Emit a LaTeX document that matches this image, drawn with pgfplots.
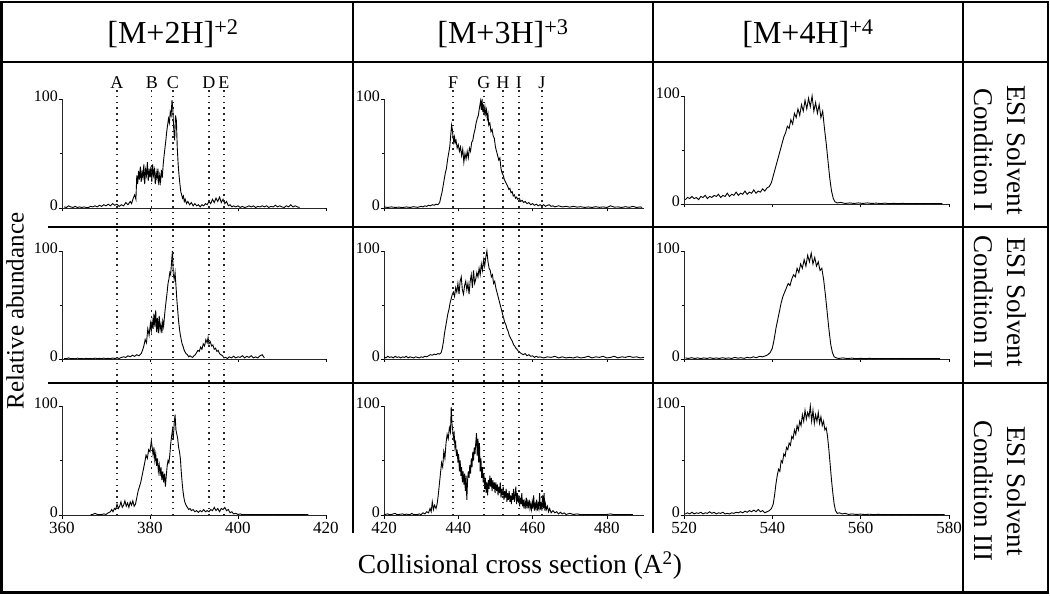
\documentclass[border=0pt]{standalone}
\usepackage{pgfplots}
\pgfplotsset{compat=1.18}
\usepackage{fontspec}
\setmainfont{Liberation Serif}
\newcommand{\fs}[1]{\fontsize{#1}{#1}\selectfont}
\tikzset{dl/.style={black!85, line width=1.4pt, dash pattern=on 1.5pt off 4.3pt}}
\pgfplotsset{
  panel/.style={
    scale only axis, anchor=south west,
    axis x line*=bottom, axis y line*=left,
    ymin=0, ymax=100, ytick={0,100}, minor ytick={50},
    tick align=outside, major tick length=3.5pt, minor tick length=2.5pt,
    every tick/.style={black, line width=0.6pt},
    axis line style={line width=0.8pt, black!85},
    yticklabel style={font=\fs{16}, inner sep=0.5pt, yshift=3pt},
    xticklabel style={font=\fs{17}, inner sep=0.5pt, yshift=-2.5pt},
    /pgf/number format/assume math mode=true,
    clip=false,
  },
  nox/.style={xticklabels={}},
  c1/.style={xmin=360, xmax=420, xtick={360,380,400,420}, width=264pt},
  c2/.style={xmin=420, xmax=490, xtick={420,440,460,480}, width=260pt},
  c3/.style={xmin=520, xmax=580, xtick={520,540,560,580}, width=265pt},
  sp/.style={black, line width=0.9pt, mark=none},
}
\begin{document}
\begin{tikzpicture}
\path[use as bounding box] (0pt,0pt) rectangle (1050pt,595pt);
% table grid
\begin{scope}[line width=2.6pt, black]
\draw (1.5pt,2.5pt) rectangle (1048pt,593pt);
\draw (1.5pt,533pt) -- (1048pt,533pt);
\draw (48pt,368pt) -- (1048pt,368pt);
\draw (48pt,212pt) -- (1048pt,212pt);
\draw (353pt,593pt) -- (353pt,62pt);
\draw (653pt,593pt) -- (653pt,62pt);
\draw (963pt,593pt) -- (963pt,2.5pt);
\end{scope}
% headers
\node[font=\fs{32}] at (173pt,561pt) {[M+2H]\textsuperscript{+2}};
\node[font=\fs{32}] at (503pt,561pt) {[M+3H]\textsuperscript{+3}};
\node[font=\fs{32}] at (808pt,561pt) {[M+4H]\textsuperscript{+4}};
% row labels
\node[rotate=-90, align=center, font=\fontsize{27}{33}\selectfont] at (1000pt,445pt) {ESI Solvent\\Condition I};
\node[rotate=-90, align=center, font=\fontsize{27}{33}\selectfont] at (1000pt,293pt) {ESI Solvent\\Condition II};
\node[rotate=-90, align=center, font=\fontsize{27}{33}\selectfont] at (1000pt,104pt) {ESI Solvent\\Condition III};
% axis titles
\node[rotate=90, font=\fs{25}] at (15pt,284pt) {Relative abundance};
\node[font=\fs{27.5}] at (520pt,29pt) {Collisional cross section (A\textsuperscript{2})};

% ===== Row 1 =====
\begin{axis}[panel, c1, nox, at={(62pt,387pt)}, height=109pt]
\addplot[sp] coordinates {(360.5,1)(361,0.5)(361.5,2)(362,1)(362.5,0.5)(363,1.5)(363.5,0.5)(364,1)(364.5,0.5)(365,1)(365.5,0.5)(366,0.5)(366.5,1.5)(367,1)(367.5,2)(368,1)(368.5,2.5)(369,1.5)(369.5,3)(370,2)(370.5,3.5)(371,2)(371.5,4)(372,2.5)(372.5,3.5)(373,1.5)(373.5,3)(374,2)(374.5,5)(375,3)(375.5,6)(375.8,4)(376.2,9)(376.5,12)(376.8,8)(377,30)(377.2,22)(377.4,34)(377.6,26)(377.8,38)(378,24)(378.2,33)(378.4,28)(378.6,40)(378.8,22)(379,35)(379.2,30)(379.4,42)(379.6,25)(379.8,36)(380,28)(380.2,38)(380.4,24)(380.6,40)(380.8,30)(381,35)(381.2,22)(381.4,33)(381.6,27)(381.8,36)(382,21)(382.2,30)(382.4,24)(382.6,35)(382.8,28)(383,40)(383.2,48)(383.4,55)(383.6,62)(383.8,70)(384,76)(384.2,82)(384.4,78)(384.6,88)(384.8,85)(385,99)(385.2,90)(385.4,72)(385.6,62)(385.8,85)(386,80)(386.2,55)(386.4,40)(386.6,30)(386.8,22)(387,15)(387.2,12)(387.4,9)(387.6,11)(387.8,6)(388,8)(388.3,4)(388.6,6)(389,3)(389.4,5)(389.8,2)(390.2,4)(390.6,2)(391,3)(391.4,1)(391.8,3)(392.2,2)(392.6,4)(393,3)(393.4,6)(393.8,4)(394.2,8)(394.6,5)(395,9)(395.4,6)(395.8,10)(396.2,5)(396.6,8)(397,4)(397.4,6)(397.8,2)(398.2,3)(398.6,1)(399,2)(399.5,1)(400,2)(400.5,0.5)(401,1.5)(401.5,0.5)(402,1)(402.5,2)(403,1)(403.5,2)(404,0.5)(404.5,1.5)(405,1)(405.5,2)(406,1)(406.5,2)(407,0.5)(407.5,1.5)(408,1)(408.5,2.5)(409,1)(409.5,2)(410,1)(410.5,0.5)(411,2)(411.5,1)(412,3)(412.5,1)(413,2)(413.5,1)(414,0.5)};
\end{axis}
\begin{axis}[panel, c2, nox, at={(384pt,387pt)}, height=109pt]
\addplot[sp] coordinates {(420,1)(421,0.5)(422,1)(423,0.5)(424,0.8)(425,0.4)(426,1)(427,0.5)(428,1.2)(429,0.6)(430,1.5)(430.5,1)(431,2)(431.5,1.5)(432,2.5)(432.5,2)(433,3)(433.5,2.5)(434,3.5)(434.5,3)(435,5)(435.3,10)(435.6,14)(435.9,20)(436.2,26)(436.5,32)(436.8,36)(437.1,44)(437.4,50)(437.7,56)(438,68)(438.2,76)(438.4,72)(438.6,64)(438.8,60)(439,65)(439.2,60)(439.4,62)(439.7,55)(440,58)(440.3,52)(440.6,56)(440.9,48)(441.2,54)(441.5,42)(441.8,50)(442.1,45)(442.4,52)(442.7,46)(443,55)(443.3,52)(443.6,60)(443.9,62)(444.2,68)(444.5,72)(444.8,78)(445.1,82)(445.4,85)(445.7,92)(446,98)(446.2,90)(446.4,100)(446.6,88)(446.8,95)(447,85)(447.2,92)(447.4,86)(447.6,90)(447.8,82)(448,86)(448.2,76)(448.5,78)(448.8,70)(449.1,72)(449.4,66)(449.7,64)(450,56)(450.3,52)(450.6,48)(450.9,44)(451.2,46)(451.5,36)(451.8,32)(452.1,30)(452.4,26)(452.7,24)(453,22)(453.3,20)(453.6,17)(453.9,18)(454.2,14)(454.5,15)(454.8,11)(455.1,12)(455.4,9)(455.7,10)(456,8)(456.4,9)(456.8,6)(457.2,7)(457.6,5)(458,6)(458.5,4)(459,5)(459.5,3)(460,4)(460.5,2.5)(461,3.5)(461.5,2)(462,3)(462.5,2)(463,3)(463.5,1.5)(464,2.5)(464.5,3)(465,1.5)(465.5,2)(466,1)(467,2)(468,1)(469,1.5)(470,0.8)(471,1.5)(472,0.8)(473,1.2)(474,0.5)(475,1)(476,0.5)(477,1.2)(478,0.6)(479,1)(480,0.5)(481,2)(482,0.8)(483,1)(484,0.5)(485,1.2)(486,0.6)(487,1.5)(488,0.5)(489,1)(489.5,0.5)};
\end{axis}
\begin{axis}[panel, c3, nox, at={(684pt,391pt)}, height=108pt]
\addplot[sp] coordinates {(520.3,4)(520.8,6)(521.3,5)(521.8,7)(522.3,5)(522.8,6)(523.3,4)(523.8,7)(524.3,6)(524.8,8)(525.3,5)(525.8,7)(526.3,6)(526.8,8)(527.3,7)(527.8,9)(528.3,6)(528.8,8)(529.3,7)(529.8,10)(530.3,7)(530.8,9)(531.3,8)(531.8,11)(532.3,8)(532.8,10)(533.3,9)(533.8,12)(534.3,9)(534.8,11)(535.3,10)(535.8,13)(536.3,10)(536.8,12)(537.3,11)(537.8,14)(538.3,12)(538.8,15)(539.3,16)(539.8,20)(540.2,26)(540.6,32)(541,38)(541.4,44)(541.8,50)(542.2,56)(542.6,62)(543,66)(543.4,72)(543.8,70)(544.2,78)(544.6,74)(545,84)(545.4,80)(545.8,88)(546.2,82)(546.6,92)(547,86)(547.4,96)(547.8,88)(548.2,98)(548.6,90)(549,100)(549.4,86)(549.8,94)(550.2,84)(550.6,92)(551,80)(551.4,86)(551.8,70)(552.2,56)(552.6,40)(553,24)(553.4,12)(553.8,5)(554.2,2)(554.7,1)(555.5,1.5)(556.5,0.5)(557.5,1)(558.5,0.5)(559.5,1)(560.5,0.5)(561.5,1)(562.5,0.5)(563.5,0.8)(564.5,0.4)(565.5,0.8)(566.5,0.3)(567.5,0.6)(568.5,0.3)(569.5,0.6)(570.5,0.3)(571.5,0.5)(572.5,0.3)(573.5,0.5)(574.5,0.3)(575.5,0.5)(576.5,0.3)(577.5,0.5)(578.5,0.3)};
\end{axis}

% ===== Row 2 =====
\begin{axis}[panel, c1, nox, at={(62pt,236pt)}, height=108pt]
\addplot[sp] coordinates {(360.5,0.5)(361,0.3)(361.5,1)(362,0.3)(362.5,0.5)(363,0.2)(363.5,0.8)(364,0.3)(364.5,0.5)(365,0.2)(365.5,0.6)(366,0.3)(366.5,0.5)(367,0.2)(367.5,0.8)(368,0.4)(368.5,0.6)(369,0.3)(369.5,0.8)(370,0.4)(370.5,0.6)(371,0.3)(371.5,0.9)(372,0.5)(372.5,1)(373,0.5)(373.5,1.5)(374,2)(374.5,1.5)(375,3)(375.5,2)(376,3.5)(376.5,2.5)(377,4)(377.5,3)(378,5)(378.3,8)(378.6,12)(378.9,18)(379.2,15)(379.5,28)(379.8,22)(380.1,33)(380.3,26)(380.5,35)(380.7,28)(380.9,42)(381.1,30)(381.3,45)(381.5,25)(381.7,38)(381.9,24)(382.1,40)(382.3,27)(382.5,32)(382.7,24)(382.9,35)(383.1,30)(383.3,40)(383.5,48)(383.7,55)(383.9,62)(384.1,70)(384.3,74)(384.5,80)(384.7,78)(384.9,90)(385.1,100)(385.3,78)(385.5,74)(385.7,80)(385.9,68)(386.1,55)(386.3,45)(386.5,35)(386.7,28)(386.9,22)(387.1,18)(387.3,14)(387.5,12)(387.7,9)(387.9,7)(388.2,5)(388.5,4)(388.8,2)(389.1,3)(389.4,2)(389.7,1.5)(390,3)(390.3,4)(390.6,6)(390.9,8)(391.2,7)(391.5,11)(391.8,9)(392.1,14)(392.4,12)(392.7,18)(393,15)(393.2,20)(393.4,14)(393.7,16)(394,12)(394.3,13)(394.6,9)(394.9,10)(395.2,7)(395.5,8)(395.8,5)(396.1,4)(396.5,3)(396.8,1)(397.2,1.5)(397.6,0.5)(398,2)(398.5,1)(399,2.5)(399.5,1)(400,2)(400.5,1.5)(401,3)(401.5,1)(402,2.5)(402.5,1.5)(403,3)(403.5,1)(404,2)(404.5,1)(405,3)(405.5,4)(406,1)};
\end{axis}
\begin{axis}[panel, c2, nox, at={(384pt,236pt)}, height=108pt]
\addplot[sp] coordinates {(420,2)(420.5,1)(421,2.5)(421.5,1.5)(422,2)(422.5,1)(423,2.5)(423.5,1.5)(424,2)(424.5,1)(425,2)(425.5,1.5)(426,2.5)(426.5,1)(427,2)(427.5,1.5)(428,1)(428.5,2)(429,1.5)(429.5,1)(430,2)(430.5,1.5)(431,2.5)(431.5,2)(432,3)(432.5,4)(433,3.5)(433.5,4.5)(434,4)(434.5,5)(435,4.5)(435.4,6)(435.7,10)(436,16)(436.3,24)(436.6,30)(436.9,36)(437.2,42)(437.5,46)(437.8,52)(438.1,56)(438.4,60)(438.7,62)(439,58)(439.3,66)(439.6,62)(439.9,70)(440.2,60)(440.5,72)(440.8,76)(441.1,64)(441.4,60)(441.7,68)(442,72)(442.3,64)(442.6,70)(442.9,60)(443.2,72)(443.5,78)(443.8,66)(444.1,82)(444.4,70)(444.7,74)(445,80)(445.3,76)(445.6,84)(445.9,78)(446.2,88)(446.5,82)(446.8,92)(447.1,86)(447.4,94)(447.7,100)(448,90)(448.3,84)(448.6,82)(448.9,76)(449.2,78)(449.5,70)(449.8,72)(450.1,66)(450.4,62)(450.7,58)(451,54)(451.3,50)(451.6,46)(451.9,42)(452.2,38)(452.5,34)(452.8,32)(453.1,28)(453.4,26)(453.7,22)(454,20)(454.3,18)(454.6,16)(454.9,13)(455.2,12)(455.5,10)(455.8,9)(456.2,7)(456.6,6)(457,5)(457.5,4)(458,5)(458.5,3)(459,4)(459.5,2.5)(460,3)(460.5,1.5)(461,2.5)(461.5,1.5)(462,2)(463,1)(464,2)(465,1.5)(466,2.5)(467,1)(468,2)(469,1)(470,1.5)(471,1)(472,2)(473,1)(474,1.5)(475,2.5)(476,1)(477,2)(478,1.5)(479,2.5)(480,1)(481,1.5)(482,2.5)(483,1)(484,2)(485,1.5)(486,2.5)(487,1.5)(488,2)(489,1)(490,1.5)};
\end{axis}
\begin{axis}[panel, c3, nox, at={(684pt,236pt)}, height=108pt]
\addplot[sp] coordinates {(520.3,1)(521,0.5)(521.7,1.2)(522.4,0.5)(523.1,1)(523.8,0.4)(524.5,1)(525.2,0.5)(525.9,1.2)(526.6,0.5)(527.3,1)(528,0.5)(528.7,1.2)(529.4,0.6)(530.1,1)(530.8,0.5)(531.5,1.5)(532.2,0.8)(532.9,1.2)(533.6,0.6)(534.3,1.5)(535,1)(535.7,2)(536.4,1.2)(537.1,2.5)(537.8,2)(538.5,3)(539,4)(539.5,6)(540,10)(540.4,18)(540.8,28)(541.2,36)(541.6,44)(542,52)(542.4,58)(542.8,62)(543.2,66)(543.6,70)(544,68)(544.4,74)(544.8,78)(545.2,76)(545.6,84)(546,80)(546.4,88)(546.8,84)(547.2,92)(547.6,86)(548,96)(548.4,90)(548.8,98)(549.2,88)(549.6,94)(550,86)(550.4,90)(550.8,82)(551.2,84)(551.6,74)(552,60)(552.4,44)(552.8,28)(553.2,14)(553.6,6)(554,2)(554.5,1)(555,0.5)(556,1)(557,0.4)(558,0.8)(559,0.3)(560,0.6)(561,0.3)(562,0.6)(563,0.3)(564,0.5)(565,0.3)(566,0.5)(567,0.3)(568,0.5)(569,0.3)(570,0.4)(571,0.3)(572,0.4)(573,0.3)(574,0.4)(575,0.3)(576,0.4)(577,0.3)(578,0.3)};
\end{axis}

% ===== Row 3 =====
\begin{axis}[panel, c1, at={(62pt,80pt)}, height=109pt]
\addplot[sp] coordinates {(366.5,0.3)(367,0.5)(367.5,1.5)(368,0.5)(368.5,0.3)(369,0.5)(369.5,1)(370,0.5)(370.5,2)(371,3)(371.3,5)(371.6,3)(371.9,6)(372.2,5)(372.5,10)(372.8,6)(373.1,8)(373.4,12)(373.7,7)(374,9)(374.3,13)(374.6,8)(374.9,11)(375.2,7)(375.5,12)(375.8,9)(376.1,13)(376.4,8)(376.7,10)(377,16)(377.3,22)(377.6,26)(377.9,30)(378.2,36)(378.5,42)(378.8,48)(379.1,55)(379.4,52)(379.7,60)(380,58)(380.3,68)(380.5,62)(380.7,55)(380.9,62)(381.1,50)(381.3,56)(381.5,45)(381.7,52)(381.9,40)(382.1,46)(382.3,36)(382.5,44)(382.7,32)(382.9,40)(383.1,30)(383.3,38)(383.5,26)(383.7,36)(383.9,45)(384.1,50)(384.3,48)(384.5,55)(384.7,65)(384.9,72)(385.1,78)(385.3,70)(385.5,84)(385.7,92)(385.9,78)(386.1,74)(386.3,70)(386.5,62)(386.7,58)(386.9,52)(387.1,40)(387.3,30)(387.5,22)(387.7,16)(387.9,12)(388.2,9)(388.5,7)(388.8,5)(389.1,6)(389.4,4)(389.8,5)(390.2,3)(390.6,4)(391,2.5)(391.4,4)(391.8,3)(392.2,5)(392.6,3)(393,4)(393.4,3)(393.8,5)(394.2,4)(394.6,7)(395,4)(395.4,6)(395.8,3)(396.2,6)(396.6,5)(397,7)(397.4,4)(397.8,5)(398.2,2)(398.6,3)(399,1)(399.5,1.5)(400,0.5)(400.5,1)(401,0.3)(402,0.5)(403,0.3)(404,0.5)(405,0.3)(406,0.4)(407,0.3)(408,0.5)(409,0.3)(410,0.4)(411,0.3)(412,0.5)(413,0.3)(414,0.4)(415,0.3)(416,0.5)};
\foreach \p/\l in {372.5/A,380.4/B,385.2/C,393.4/D,396.8/E}{
  \edef\tmp{\noexpand\draw[dl] (axis cs:\p,0) -- (axis cs:\p,390);
    \noexpand\node[font=\noexpand\fs{18}] at (axis cs:\p,397) {\l};}\tmp
}
\end{axis}
\begin{axis}[panel, c2, at={(384pt,80pt)}, height=109pt]
\addplot[sp] coordinates {(420,0.3)(421,1)(421.5,0.3)(422,0.5)(423,1.5)(423.5,0.3)(424,0.5)(425,1)(425.5,0.3)(426,0.8)(427,0.3)(427.5,1.5)(428,0.3)(429,0.5)(429.5,1)(430,0.3)(430.5,2)(431,1)(431.5,3)(432,2)(432.4,6)(432.7,3)(433,12)(433.3,5)(433.6,9)(434,6)(434.3,10)(434.6,18)(434.9,28)(435.2,38)(435.5,48)(435.8,44)(436.1,58)(436.4,52)(436.7,66)(437,74)(437.3,70)(437.6,80)(437.9,76)(438.1,99)(438.3,84)(438.5,78)(438.7,70)(438.9,74)(439.1,62)(439.3,66)(439.5,54)(439.7,60)(439.9,48)(440.1,56)(440.3,40)(440.5,50)(440.7,36)(440.9,44)(441.1,30)(441.3,40)(441.5,28)(441.7,38)(441.9,22)(442.1,36)(442.3,14)(442.5,32)(442.7,40)(442.9,34)(443.1,46)(443.3,38)(443.5,52)(443.7,44)(443.9,58)(444.1,50)(444.3,62)(444.5,56)(444.7,66)(444.9,75)(445.1,54)(445.3,70)(445.5,48)(445.7,66)(445.9,40)(446.1,52)(446.3,34)(446.5,44)(446.7,30)(446.9,38)(447.1,24)(447.3,34)(447.5,20)(447.7,30)(447.9,18)(448.1,32)(448.3,24)(448.5,36)(448.7,26)(448.9,34)(449.1,22)(449.3,32)(449.5,24)(449.7,30)(449.9,20)(450.1,30)(450.3,22)(450.5,28)(450.7,18)(450.9,26)(451.1,20)(451.3,30)(451.5,16)(451.7,24)(451.9,18)(452.1,26)(452.3,14)(452.5,22)(452.7,16)(452.9,24)(453.1,12)(453.3,20)(453.5,14)(453.7,22)(453.9,12)(454.1,18)(454.3,10)(454.5,20)(454.7,14)(454.9,24)(455.1,12)(455.3,18)(455.5,26)(455.7,10)(455.9,20)(456.1,12)(456.3,18)(456.5,8)(456.7,16)(456.9,10)(457.1,20)(457.3,8)(457.5,14)(457.7,6)(457.9,12)(458.1,8)(458.3,16)(458.5,6)(458.7,12)(458.9,8)(459.1,14)(459.3,6)(459.5,10)(459.7,5)(459.9,12)(460.1,6)(460.3,18)(460.5,4)(460.7,10)(460.9,6)(461.1,14)(461.3,4)(461.5,10)(461.7,6)(461.9,20)(462.1,5)(462.3,12)(462.5,4)(462.7,18)(462.9,6)(463.1,20)(463.3,4)(463.5,10)(463.7,5)(464,8)(464.3,3)(464.6,6)(465,2)(465.5,4)(466,2)(466.5,3)(467,1)(467.5,2.5)(468,1)(468.5,2)(469,0.5)(470,1.5)(471,0.5)(472,1)(473,0.3)(474,0.5)(475,0.3)(476,0.5)(477,0.3)(478,0.3)(479,0.3)(480,0.5)(481,1)(482,0.3)(484,0.3)(486,0.5)(487,0.3)};
\foreach \p/\l in {438.6/F,446.9/G,452.0/H,456.3/I,462.5/J}{
  \edef\tmp{\noexpand\draw[dl] (axis cs:\p,0) -- (axis cs:\p,390);
    \noexpand\node[font=\noexpand\fs{18}] at (axis cs:\p,397) {\l};}\tmp
}
\end{axis}
\begin{axis}[panel, c3, at={(684pt,80pt)}, height=109pt]
\addplot[sp] coordinates {(520.3,1)(520.8,2)(521.3,1)(521.8,2.5)(522.3,1)(522.8,2)(523.3,1.5)(523.8,2.5)(524.3,1)(524.8,2)(525.3,1.5)(525.8,3)(526.3,1.5)(526.8,2.5)(527.3,1)(527.8,2)(528.3,1.5)(528.8,2.5)(529.3,1)(529.8,1.5)(530.3,1)(530.8,2)(531.3,1.5)(531.8,2.5)(532.3,2)(532.8,3)(533.3,2)(533.8,3.5)(534.3,2.5)(534.8,4)(535.3,3)(535.8,4.5)(536.3,3)(536.8,5)(537.3,3)(537.8,4)(538.3,2)(538.8,3)(539.3,4)(539.8,6)(540.2,10)(540.5,18)(540.8,28)(541.1,36)(541.4,42)(541.7,40)(542,50)(542.3,48)(542.6,56)(542.9,54)(543.2,62)(543.5,60)(543.8,66)(544.1,64)(544.4,72)(544.7,70)(545,78)(545.3,74)(545.6,82)(545.9,78)(546.2,86)(546.5,82)(546.8,92)(547.1,86)(547.4,96)(547.7,88)(548,94)(548.3,90)(548.6,100)(548.9,86)(549.2,96)(549.5,84)(549.8,92)(550.1,86)(550.4,94)(550.7,84)(551,90)(551.3,82)(551.6,86)(551.9,78)(552.2,80)(552.5,72)(552.8,60)(553.1,46)(553.4,32)(553.7,20)(554,10)(554.3,4)(554.7,1.5)(555.2,2)(555.8,1)(556.5,1.5)(557.3,0.5)(558,1)(559,0.5)(560,0.8)(561,0.4)(562,0.7)(563,0.3)(564,0.6)(565,0.3)(566,0.5)(567,0.3)(568,0.5)(569,0.3)(570,0.5)(571,0.3)(572,0.5)(573,0.3)(574,0.4)(575,0.3)(576,0.5)(577,0.3)(578,0.5)(579,0.3)};
\end{axis}
\end{tikzpicture}
\end{document}
